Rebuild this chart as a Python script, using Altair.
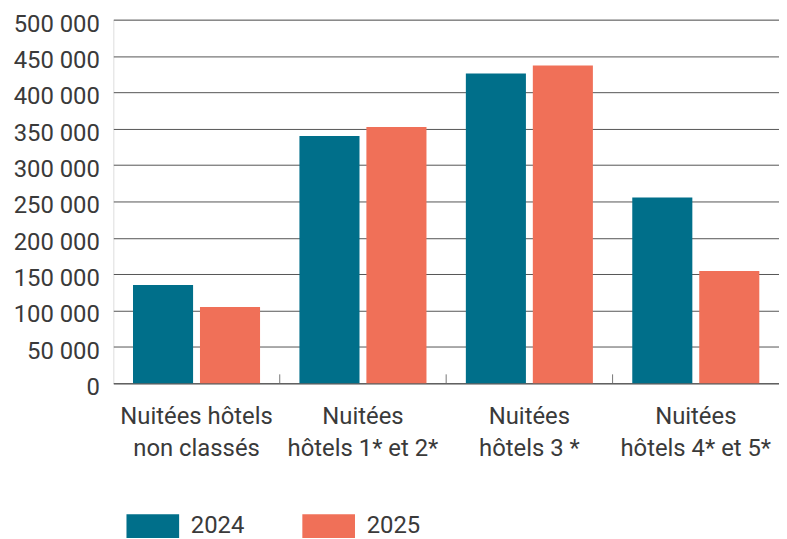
import altair as alt
import pandas as pd

categories = ["Nuitées hôtels non classés", "Nuitées hôtels 1* et 2*",
              "Nuitées hôtels 3 *", "Nuitées hôtels 4* et 5*"]
label_lines = [["Nuitées hôtels", "non classés"], ["Nuitées", "hôtels 1* et 2*"],
               ["Nuitées", "hôtels 3 *"], ["Nuitées", "hôtels 4* et 5*"]]
years = ["2024", "2025"]
values_2024 = [135000, 340000, 426000, 255500]
values_2025 = [105000, 352500, 437000, 154500]
colors = ["#006F8A", "#F07058"]
y_ticks = [0, 50000, 100000, 150000, 200000, 250000, 300000, 350000, 400000, 450000, 500000]

rows = []
for c, a, b in zip(categories, values_2024, values_2025):
    rows.append({"cat": c, "year": years[0], "value": a})
    rows.append({"cat": c, "year": years[1], "value": b})
df = pd.DataFrame(rows)
bounds = pd.DataFrame({"cat": categories[1:]})

expr = "datum.label"
for c, lines in zip(categories, label_lines):
    expr = f"datum.label == {c!r} ? {lines!r} : ({expr})"

FONT = "Roboto"
TXT = "#3a3a3a"

x_scale = alt.Scale(domain=categories, paddingInner=0, paddingOuter=0)

bars = alt.Chart(df).mark_bar().encode(
    x=alt.X("cat:N", scale=x_scale, sort=categories, title=None,
            axis=alt.Axis(labelExpr=expr, labelAngle=0, ticks=False, domain=True,
                          domainColor="#555555", labelFont=FONT, labelFontSize=24,
                          labelColor=TXT, labelLineHeight=33, labelPadding=21,
                          labelBaseline="top")),
    xOffset=alt.XOffset("year:N", scale=alt.Scale(paddingInner=0.103, paddingOuter=0.294)),
    y=alt.Y("value:Q", scale=alt.Scale(domain=[0, 500000]), title=None,
            axis=alt.Axis(values=y_ticks, labelExpr="replace(format(datum.value, ','), ',', ' ')",
                          ticks=False, domain=False, gridColor="#555555", gridWidth=1,
                          labelFont=FONT, labelFontSize=24, labelColor=TXT, labelPadding=14,
                          labelOffset=4.5)),
    color=alt.Color("year:N", scale=alt.Scale(domain=years, range=colors), title=None,
                    legend=alt.Legend(orient="none", legendX=13, legendY=496, direction="horizontal",
                                      symbolType="M-1,-0.9L3,-0.9L3,0.9L-1,0.9Z", symbolSize=702,
                                      symbolStrokeWidth=0, labelOffset=38, columnPadding=58,
                                      labelFont=FONT, labelFontSize=24, labelColor=TXT)),
)

ticks = alt.Chart(bounds).mark_rule(color="#777777", strokeWidth=1).encode(
    x=alt.X("cat:N", scale=x_scale, sort=categories, bandPosition=0),
    y=alt.value(357),
    y2=alt.value(366),
)

chart = alt.layer(bars, ticks).properties(
    width=670, height=366,
    padding={"left": 5, "top": 2, "right": 0, "bottom": 0},
).configure_view(stroke=None).configure(background="white")

chart.save("out.html", embed_options={"renderer": "svg", "actions": False})
